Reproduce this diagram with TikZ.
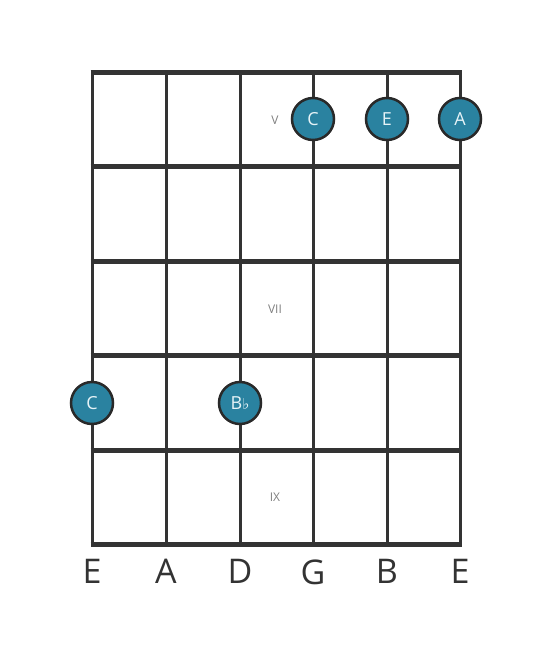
\documentclass[tikz,border=0pt]{standalone}
\usepackage{fontspec}
\setmainfont{Open Sans}
\newfontfamily\symfont{DejaVu Sans}
\usetikzlibrary{positioning}
\definecolor{mygrid}{HTML}{333333}
\definecolor{myteal}{HTML}{2A82A0}
\definecolor{mynote}{HTML}{E6F3F7}
\tikzset{
  fretline/.style={line width=5pt, mygrid},
  stringline/.style={line width=3pt, mygrid},
  notedot/.style={circle, draw=mygrid!80!black, line width=2.5pt, fill=myteal,
    minimum size=42pt, inner sep=0pt, text=mynote, font=\fontsize{18}{18}\selectfont},
  fretnum/.style={text=black!50, font=\fontsize{12}{12}\selectfont},
  stringname/.style={text=mygrid, font=\fontsize{34}{34}\selectfont}
}
\begin{document}
\begin{tikzpicture}[x=1pt, y=-1pt]
    \useasboundingbox (0,0) rectangle (553,656);
    % strings
    \foreach \s/\x/\n in {1/92/E, 2/166/A, 3/240/D, 4/313/G, 5/387/B, 6/460/E} {
        \coordinate (s\s top) at (\x,72);
        \coordinate (s\s bot) at (\x,544);
        \draw[stringline] (s\s top) -- (s\s bot);
        \node[stringname, below=12pt of s\s bot] (name\s) {\n};
    }
    % frets
    \foreach \f/\y in {0/72, 1/166, 2/261, 3/355, 4/450, 5/544} {
        \coordinate (f\f l) at (90.5,\y);
        \coordinate (f\f r) at (461.5,\y);
        \draw[fretline] (f\f l) -- (f\f r);
    }
    % fret numbers
    \node[fretnum] (fretV) at (275,120) {V};
    \node[fretnum] (fretVII) at (275,309) {VII};
    \node[fretnum] (fretIX) at (275,497) {IX};
    % notes
    \node[notedot] (noteC) at (313,119) {C};
    \node[notedot] (noteE) at (387,119) {E};
    \node[notedot] (noteA) at (460,119) {A};
    \node[notedot] (noteClow) at (92,403) {C};
    \node[notedot] (noteBb) at (240,403) {B{\symfont\fontsize{15}{15}\selectfont ♭}};
\end{tikzpicture}
\end{document}
